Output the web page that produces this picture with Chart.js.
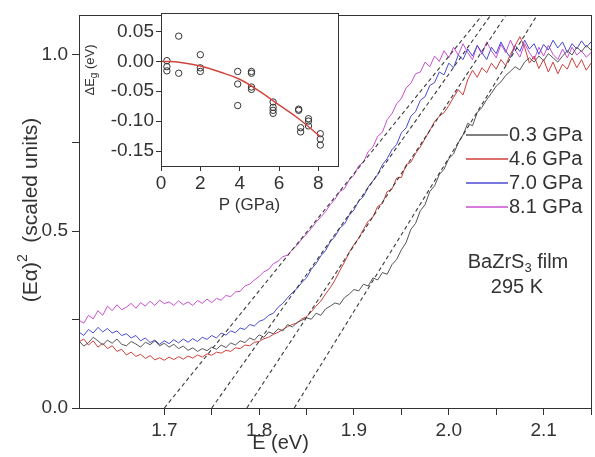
<!DOCTYPE html>
<html>
<head>
<meta charset="utf-8">
<script src="https://cdn.jsdelivr.net/npm/chart.js@4.4.0/dist/chart.umd.min.js"></script>
<style>
  body { margin: 0; background: #fff; }
  #wrap { position: relative; width: 595px; height: 457px; }
  #main { position: absolute; left: 0; top: 0; }
  #inset { position: absolute; left: 80px; top: 0; }
</style>
</head>
<body>
<div id="wrap">
  <canvas id="main" width="595" height="457"></canvas>
  <canvas id="inset" width="270" height="220"></canvas>
</div>
<script>
// photon energy (eV)
const energy = [
  1.610,1.615,1.620,1.625,1.630,1.635,1.640,1.645,1.650,1.655,
  1.660,1.665,1.670,1.675,1.680,1.685,1.690,1.695,1.700,1.705,
  1.710,1.715,1.720,1.725,1.730,1.735,1.740,1.745,1.750,1.755,
  1.760,1.765,1.770,1.775,1.780,1.785,1.790,1.795,1.800,1.805,
  1.810,1.815,1.820,1.825,1.830,1.835,1.840,1.845,1.850,1.855,
  1.860,1.865,1.870,1.875,1.880,1.885,1.890,1.895,1.900,1.905,
  1.910,1.915,1.920,1.925,1.930,1.935,1.940,1.945,1.950,1.955,
  1.960,1.965,1.970,1.975,1.980,1.985,1.990,1.995,2.000,2.005,
  2.010,2.015,2.020,2.025,2.030,2.035,2.040,2.045,2.050,2.055,
  2.060,2.065,2.070,2.075,2.080,2.085,2.090,2.095,2.100,2.105,
  2.110,2.115,2.120,2.125,2.130,2.135,2.140,2.145,2.150
];

// (E*alpha)^2, scaled
const abs03 = [
  0.190,0.175,0.185,0.200,0.190,0.178,0.192,0.183,0.195,0.180,
  0.176,0.188,0.181,0.172,0.186,0.179,0.190,0.176,0.183,0.172,
  0.180,0.168,0.175,0.163,0.170,0.160,0.168,0.162,0.172,0.166,
  0.178,0.171,0.184,0.178,0.190,0.185,0.198,0.192,0.207,0.200,
  0.215,0.210,0.224,0.218,0.236,0.229,0.242,0.248,0.255,0.251,
  0.268,0.262,0.280,0.288,0.297,0.293,0.312,0.322,0.335,0.331,
  0.350,0.345,0.368,0.362,0.383,0.378,0.405,0.420,0.447,0.468,
  0.505,0.522,0.558,0.575,0.612,0.628,0.660,0.675,0.705,0.718,
  0.750,0.772,0.805,0.798,0.835,0.850,0.872,0.890,0.910,0.922,
  0.940,0.952,0.965,0.956,0.978,0.990,0.978,0.995,0.982,1.002,
  0.990,0.978,0.995,1.010,0.998,1.020,1.008,1.025,1.012
];
const abs46 = [
  0.187,0.195,0.178,0.190,0.172,0.183,0.168,0.176,0.160,0.166,
  0.150,0.158,0.146,0.152,0.140,0.148,0.136,0.142,0.135,0.144,
  0.137,0.145,0.138,0.147,0.141,0.150,0.144,0.153,0.149,0.158,
  0.155,0.163,0.160,0.170,0.168,0.178,0.176,0.186,0.188,0.196,
  0.200,0.208,0.214,0.222,0.230,0.236,0.240,0.252,0.258,0.272,
  0.288,0.302,0.322,0.340,0.362,0.388,0.412,0.440,0.462,0.480,
  0.505,0.528,0.540,0.570,0.578,0.612,0.618,0.650,0.652,0.688,
  0.695,0.720,0.738,0.762,0.785,0.810,0.825,0.835,0.855,0.878,
  0.900,0.885,0.928,0.955,0.935,0.962,0.948,0.975,0.958,0.985,
  0.968,1.000,1.025,1.050,1.020,0.975,0.995,0.960,0.985,0.950,
  0.978,0.945,0.972,0.958,0.990,0.962,0.985,0.955,0.975
];
const abs70 = [
  0.215,0.205,0.222,0.212,0.228,0.215,0.225,0.212,0.218,0.205,
  0.210,0.198,0.205,0.190,0.198,0.185,0.192,0.180,0.190,0.182,
  0.193,0.184,0.195,0.186,0.196,0.188,0.200,0.194,0.205,0.198,
  0.212,0.206,0.218,0.213,0.226,0.222,0.236,0.232,0.245,0.250,
  0.262,0.268,0.285,0.296,0.312,0.326,0.338,0.355,0.368,0.392,
  0.408,0.430,0.445,0.470,0.485,0.508,0.520,0.545,0.560,0.585,
  0.598,0.625,0.642,0.660,0.688,0.705,0.730,0.745,0.778,0.792,
  0.825,0.838,0.870,0.880,0.912,0.920,0.950,0.942,0.975,0.962,
  0.998,0.985,1.015,0.995,1.025,1.005,0.985,1.020,1.002,1.035,
  1.010,0.990,1.025,1.008,1.040,1.015,1.030,1.000,1.028,1.012,
  1.040,1.018,1.035,1.005,1.030,1.015,1.038,1.020,1.035
];
const abs81 = [
  0.248,0.240,0.262,0.252,0.275,0.262,0.288,0.275,0.292,0.278,
  0.285,0.296,0.282,0.298,0.288,0.302,0.290,0.305,0.295,0.300,
  0.290,0.303,0.292,0.300,0.290,0.304,0.296,0.308,0.298,0.310,
  0.305,0.318,0.315,0.328,0.330,0.345,0.350,0.362,0.372,0.385,
  0.392,0.408,0.415,0.428,0.432,0.448,0.460,0.478,0.492,0.508,
  0.525,0.540,0.555,0.575,0.590,0.612,0.620,0.645,0.658,0.685,
  0.695,0.725,0.738,0.768,0.780,0.815,0.832,0.860,0.875,0.905,
  0.918,0.945,0.950,0.978,0.965,0.995,0.980,1.010,0.990,1.020,
  0.998,1.030,1.005,0.985,1.025,1.000,1.035,1.010,0.990,1.028,
  1.005,1.040,1.012,0.992,1.030,1.005,0.985,1.020,0.995,1.025,
  1.000,0.985,1.015,0.990,1.020,0.998,1.010,0.992,1.005
];

const seriesNames = ['0.3 GPa', '4.6 GPa', '7.0 GPa', '8.1 GPa'];
const seriesValues = [abs03, abs46, abs70, abs81];
const seriesColors = ['#555555', '#cf3f3a', '#4a4ad2', '#c94fd0'];

// linear (Tauc) extrapolations: E where they cross 0, E where they leave the top
const tangentStart = [1.837, 1.787, 1.750, 1.700];
const tangentEnd = [2.093, 2.060, 2.044, 2.035];
const tangentTop = 1.11;

// inset: band gap shift vs pressure
const gapP = [0.3, 0.3, 0.3, 0.9, 0.9, 2.0, 2.0, 2.0, 3.9, 3.9, 3.9, 4.6, 4.6, 4.6, 4.6,
  5.7, 5.7, 5.7, 5.7, 7.0, 7.0, 7.1, 7.1, 7.5, 7.5, 7.5, 8.1, 8.1, 8.1];
const gapShift = [0.001, -0.009, -0.016, 0.042, -0.020, 0.011, -0.011, -0.017,
  -0.017, -0.038, -0.074, -0.017, -0.020, -0.043, -0.047,
  -0.068, -0.077, -0.082, -0.087, -0.080, -0.082, -0.111, -0.118,
  -0.096, -0.100, -0.108, -0.121, -0.130, -0.140];
const fitP = [0, 1, 2, 3, 4, 5, 6, 7, 8.1];
const fitShift = [0, -0.002, -0.008, -0.018, -0.030, -0.050, -0.073, -0.096, -0.126];
const insetPTicks = [0, 2, 4, 6, 8];
const insetGapTicks = [-0.15, -0.10, -0.05, 0.00, 0.05];

const FONT = '"Liberation Sans", Arial, sans-serif';
const INK = '#333';
const isStep = (v, step) => Math.abs(v / step - Math.round(v / step)) < 1e-6;

// draws a string made of pieces (for sub/superscripts), centred on cx,cy
function richText(ctx, parts, cx, cy, rotate) {
  ctx.save();
  ctx.translate(cx, cy);
  if (rotate) ctx.rotate(-Math.PI / 2);
  ctx.textBaseline = 'middle';
  ctx.textAlign = 'left';
  ctx.fillStyle = INK;
  let w = 0;
  parts.forEach(p => { ctx.font = p.size + 'px ' + FONT; w += ctx.measureText(p.t).width; });
  let x = -w / 2;
  parts.forEach(p => {
    ctx.font = p.size + 'px ' + FONT;
    ctx.fillText(p.t, x, p.dy || 0);
    x += ctx.measureText(p.t).width;
  });
  ctx.restore();
}

const framePlugin = {
  id: 'frame',
  beforeDatasetsDraw(chart, args, opts) {
    if (!opts.fill) return;
    const a = chart.chartArea, ctx = chart.ctx;
    ctx.save();
    ctx.fillStyle = '#fff';
    ctx.fillRect(a.left, a.top, a.right - a.left, a.bottom - a.top);
    ctx.restore();
  },
  afterDatasetsDraw(chart) {
    const a = chart.chartArea, ctx = chart.ctx;
    ctx.save();
    ctx.strokeStyle = INK;
    ctx.lineWidth = 1;
    ctx.strokeRect(Math.round(a.left) + 0.5, Math.round(a.top) + 0.5,
      Math.round(a.right - a.left), Math.round(a.bottom - a.top));
    ctx.restore();
  }
};

const mainText = {
  id: 'mainText',
  afterDraw(chart) {
    const ctx = chart.ctx, xs = chart.scales.x;
    richText(ctx, [{ t: '(Eα)', size: 21 }, { t: '2', size: 14, dy: -8 }, { t: '  (scaled units)', size: 21 }], 31, 210, true);
    richText(ctx, [{ t: 'E (eV)', size: 20 }], xs.getPixelForValue(1.8225), 443, false);

    ctx.save();
    ctx.font = '20px ' + FONT;
    ctx.textBaseline = 'middle';
    ctx.setLineDash([]);
    seriesNames.forEach((name, i) => {
      const ly = 135 + i * 24;
      ctx.strokeStyle = seriesColors[i];
      ctx.lineWidth = 1.5;
      ctx.beginPath();
      ctx.moveTo(466, ly);
      ctx.lineTo(508, ly);
      ctx.stroke();
      ctx.fillStyle = INK;
      ctx.fillText(name, 509, ly);
    });
    ctx.restore();
    richText(ctx, [{ t: 'BaZrS', size: 20 }, { t: '3', size: 13, dy: 6 }, { t: ' film', size: 20 }], 518, 262, false);
    richText(ctx, [{ t: '295 K', size: 20 }], 517, 287, false);
  }
};

const mainDatasets = [];
tangentStart.forEach((e0, i) => mainDatasets.push({
  label: 'fit ' + seriesNames[i],
  data: [{ x: e0, y: 0 }, { x: tangentEnd[i], y: tangentTop }],
  borderColor: '#3a3a3a', borderWidth: 1.1, borderDash: [4, 3], pointRadius: 0
}));
seriesValues.forEach((vals, i) => mainDatasets.push({
  label: seriesNames[i],
  data: energy.map((e, j) => ({ x: e, y: vals[j] })),
  borderColor: seriesColors[i], borderWidth: 1, pointRadius: 0
}));

new Chart(document.getElementById('main'), {
  type: 'line',
  data: { datasets: mainDatasets },
  options: {
    responsive: false,
    animation: false,
    layout: { padding: { top: 5, right: 2, left: 0, bottom: 0 } },
    plugins: { legend: { display: false }, tooltip: { enabled: false }, frame: { fill: false } },
    scales: {
      x: {
        type: 'linear', min: 1.61, max: 2.15,
        afterBuildTicks: s => { s.ticks = s.ticks.filter(t => isStep(t.value, 0.05)); },
        afterFit: s => { s.height = 49; },
        ticks: {
          stepSize: 0.05, autoSkip: false, maxRotation: 0, padding: 4, color: INK,
          font: { family: FONT, size: 19 },
          callback: v => isStep(v, 0.1) ? v.toFixed(1) : ''
        },
        grid: { drawOnChartArea: false, tickLength: 7, color: INK },
        border: { color: INK }
      },
      y: {
        min: 0, max: 1.11,
        afterBuildTicks: s => { s.ticks = s.ticks.filter(t => isStep(t.value, 0.25)); },
        afterFit: s => { s.width = 79; },
        ticks: {
          stepSize: 0.25, autoSkip: false, padding: 4, color: INK,
          font: { family: FONT, size: 19 },
          callback: v => isStep(v, 0.5) ? v.toFixed(1) : ''
        },
        grid: { drawOnChartArea: false, tickLength: 7, color: INK },
        border: { color: INK }
      }
    }
  },
  plugins: [framePlugin, mainText]
});

const insetText = {
  id: 'insetText',
  afterDraw(chart) {
    const a = chart.chartArea;
    richText(chart.ctx, [{ t: 'ΔE', size: 13 }, { t: 'g', size: 10, dy: 4 }, { t: ' (eV)', size: 13 }], 10, 70, true);
    richText(chart.ctx, [{ t: 'P (GPa)', size: 17 }], (a.left + a.right) / 2, 205, false);
  }
};

new Chart(document.getElementById('inset'), {
  type: 'scatter',
  data: {
    datasets: [
      {
        type: 'line', label: 'fit',
        data: fitP.map((p, i) => ({ x: p, y: fitShift[i] })),
        borderColor: '#d2453f', borderWidth: 1.5, pointRadius: 0, tension: 0.4
      },
      {
        label: 'gap',
        data: gapP.map((p, i) => ({ x: p, y: gapShift[i] })),
        pointRadius: 3.2, borderColor: '#333', borderWidth: 1, backgroundColor: 'rgba(0,0,0,0)'
      }
    ]
  },
  options: {
    responsive: false,
    animation: false,
    layout: { padding: { top: 7, right: 12, left: 0, bottom: 0 } },
    plugins: { legend: { display: false }, tooltip: { enabled: false }, frame: { fill: true } },
    scales: {
      x: {
        type: 'linear', min: 0, max: 9,
        afterBuildTicks: s => { s.ticks = insetPTicks.map(v => ({ value: v })); },
        afterFit: s => { s.height = 54; },
        ticks: { autoSkip: false, maxRotation: 0, padding: 1, color: INK, font: { family: FONT, size: 19 } },
        grid: { drawOnChartArea: false, tickLength: 5, color: INK },
        border: { color: INK }
      },
      y: {
        min: -0.175, max: 0.08,
        afterBuildTicks: s => { s.ticks = insetGapTicks.map(v => ({ value: v })); },
        afterFit: s => { s.width = 81; },
        ticks: {
          autoSkip: false, padding: 2, color: INK, font: { family: FONT, size: 19 },
          callback: v => v.toFixed(2)
        },
        grid: { drawOnChartArea: false, tickLength: 5, color: INK },
        border: { color: INK }
      }
    }
  },
  plugins: [framePlugin, insetText]
});
</script>
</body>
</html>
